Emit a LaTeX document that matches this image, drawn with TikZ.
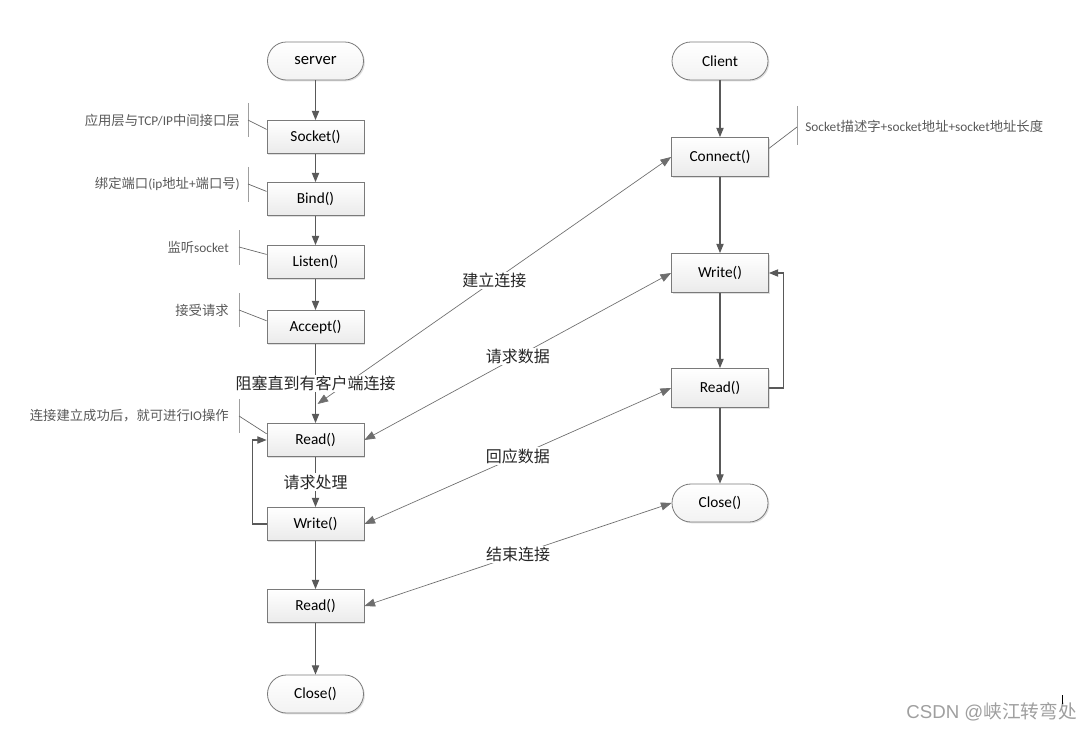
\documentclass[tikz,border=0pt]{standalone}
\usepackage{fontspec}
\setmainfont{Carlito}
\newfontfamily\cjk{Noto Sans CJK SC}
\newfontfamily\wmfont{Liberation Sans}
\usetikzlibrary{arrows.meta,shadows,calc}
\definecolor{linec}{HTML}{595959}
\definecolor{thinc}{HTML}{6E6E6E}
\definecolor{bord}{HTML}{7A7A7A}
\definecolor{anno}{HTML}{5A5A5A}
\newcommand\zh[1]{{\cjk #1}}
\begin{document}
\begin{tikzpicture}[x=0.75pt,y=-0.75pt,
  box/.style={rectangle, draw=bord, line width=0.6pt, minimum width=72.75pt, minimum height=24.75pt,
    top color=white, bottom color=gray!16, font=\fontsize{11.5}{13}\selectfont,
    drop shadow={shadow xshift=1pt, shadow yshift=-1pt, opacity=0.25, fill=gray}},
  cbox/.style={box, minimum height=29.25pt},
  term/.style={rectangle, rounded corners=14.2pt, draw=bord, line width=0.6pt, minimum width=72pt, minimum height=28.5pt,
    top color=white, bottom color=gray!10, font=\fontsize{11.5}{13}\selectfont,
    drop shadow={shadow xshift=1pt, shadow yshift=-1pt, opacity=0.25, fill=gray}},
  flow/.style={draw=linec, line width=0.8pt, -{Triangle[length=7pt,width=5.5pt]}},
  diag/.style={draw=thinc, line width=0.5pt, {Triangle[length=8pt,width=6pt]}-{Triangle[length=8pt,width=6pt]}},
  lbl/.style={fill=white, font=\cjk\fontsize{12}{14}\selectfont, inner sep=1pt, text=black!85},
  annot/.style={font=\fontsize{10}{12}\selectfont, text=anno, inner sep=0pt},
  brk/.style={draw=gray!75, line width=0.7pt},
  lead/.style={draw=gray!80!black, line width=0.5pt}
]
\useasboundingbox (0,0) rectangle (1092,731);
\fill[white] (0,0) rectangle (1092,731);

% server column
\node[term, font=\fontsize{12.5}{14}\selectfont] (srv) at (315.5,61) {server};
\node[box] (sock) at (315.5,137) {Socket()};
\node[box] (bind) at (315.5,199) {Bind()};
\node[box] (lis) at (315.5,262) {Listen()};
\node[box] (acc) at (315.5,327) {Accept()};
\node[box] (rd) at (315.5,440) {Read()};
\node[box] (wr) at (315.5,524) {Write()};
\node[box] (rd2) at (315.5,606) {Read()};
\node[term] (cls) at (315.5,694) {Close()};

% client column
\node[term] (cli) at (720,61) {Client};
\node[cbox] (con) at (720,157) {Connect()};
\node[cbox] (cwr) at (720,273) {Write()};
\node[cbox] (crd) at (720,388) {Read()};
\node[term] (ccl) at (720,503) {Close()};

% server flow
\draw[flow] (srv) -- (sock);
\draw[flow] (sock) -- (bind);
\draw[flow] (bind) -- (lis);
\draw[flow] (lis) -- (acc);
\draw[flow] (wr) -- (rd2);
\draw[flow] (rd2) -- (cls);
\draw[flow] (wr.west) -- ++(-14,0) |- (rd.west);

% client flow
\draw[flow] (cli) -- (con);
\draw[flow] (con) -- (cwr);
\draw[flow] (cwr) -- (crd);
\draw[flow] (crd) -- (ccl);
\draw[flow] (crd.east) -- ++(15,0) |- (cwr.east);

% diagonal exchanges
\coordinate (blk) at (317.5,404);
\draw[diag] (blk) -- node[lbl]{建立连接} (con.west);
\draw[diag] (rd.east) -- node[lbl]{请求数据} (cwr.west);
\draw[diag] (wr.east) -- node[lbl]{回应数据} (crd.west);
\draw[diag] (rd2.east) -- node[lbl]{结束连接} (ccl.west);

\draw[flow] (acc) -- node[lbl]{阻塞直到有客户端连接} (rd);
\draw[flow] (rd) -- node[lbl]{请求处理} (wr);

% annotations
\node[annot, anchor=east] (a1) at (240,120) {\zh{应用层与}TCP/IP\zh{中间接口层}};
\draw[brk] (248,103) -- (248,137);
\draw[lead] (248,120) -- ([yshift=-7pt]sock.north west);

\node[annot, anchor=east] (a2) at (240,184) {\zh{绑定端口}(ip\zh{地址}+\zh{端口号})};
\draw[brk] (248,167) -- (248,202);
\draw[lead] (248,184) -- ([yshift=-7pt]bind.north west);

\node[annot, anchor=east] (a3) at (229,247) {\zh{监听}socket};
\draw[brk] (239,230) -- (239,265);
\draw[lead] (239,247) -- ([yshift=-7pt]lis.north west);

\node[annot, anchor=east] (a4) at (229,310) {\zh{接受请求}};
\draw[brk] (239,293) -- (239,327);
\draw[lead] (239,310) -- ([yshift=-8pt]acc.north west);

\node[annot, anchor=east] (a5) at (229,416) {\zh{连接建立成功后，就可进行}IO\zh{操作}};
\draw[brk] (239,399) -- (239,433);
\draw[lead] (239,416) -- ([yshift=-8pt]rd.north west);

\node[annot, anchor=west] (a6) at (805,126) {Socket\zh{描述字}+socket\zh{地址}+socket\zh{地址长度}};
\draw[brk] (797,106) -- (797,145);
\draw[lead] (797,127) -- ([yshift=-8.5pt]con.north east);

% watermark
\node[anchor=east, text=gray!75, font=\wmfont\fontsize{14}{16}\selectfont, inner sep=0pt] (wm) at (1077,712) {CSDN @\zh{峡江转弯处}};
\draw[black, line width=0.6pt] (1062,695) -- (1062,704);
\end{tikzpicture}
\end{document}
